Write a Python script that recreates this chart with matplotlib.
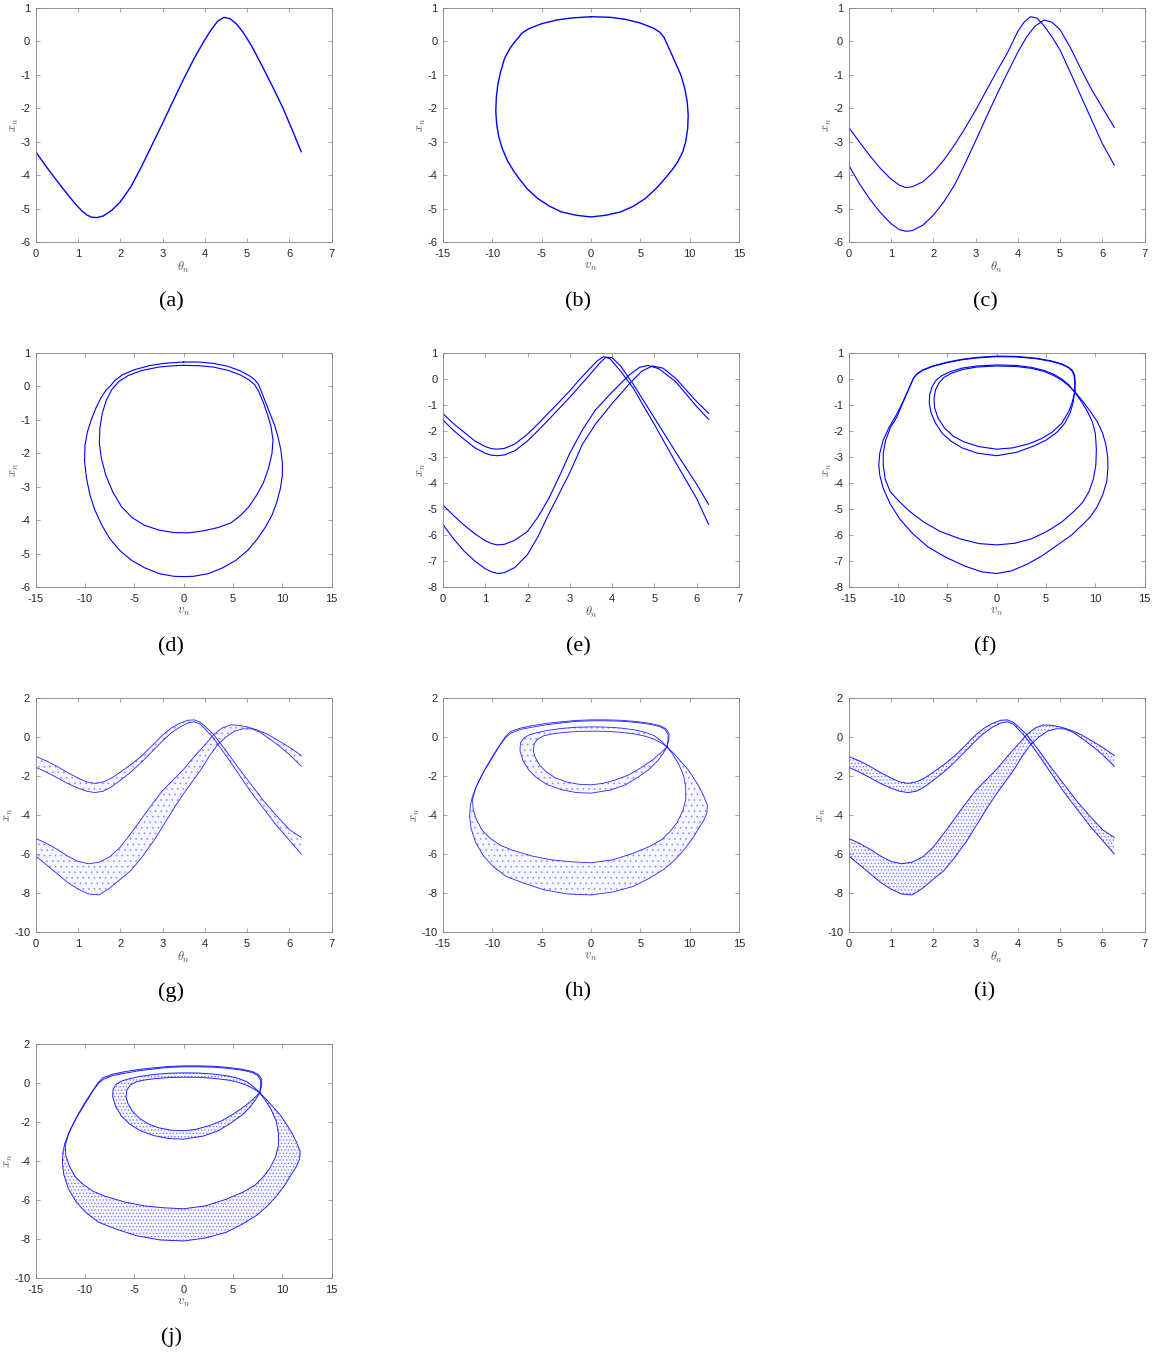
import numpy as np
import matplotlib
matplotlib.use("Agg")
import matplotlib.pyplot as plt
from matplotlib.path import Path
from matplotlib.patches import PathPatch

plt.rcParams['mathtext.fontset'] = 'cm'
plt.rcParams['axes.unicode_minus'] = False
plt.rcParams['font.family'] = ['Liberation Sans', 'DejaVu Sans']
plt.rcParams['hatch.linewidth'] = 0.6

# ---------------- data ----------------
# (a) theta_n vs x_n
a_theta = [0.0, 0.2, 0.4, 0.6, 0.8, 0.95, 1.1, 1.22, 1.33, 1.45, 1.6, 1.8, 2.0, 2.25, 2.5, 2.75, 3.0, 3.25, 3.5, 3.75, 4.0,
           4.15, 4.3, 4.45, 4.6, 4.75, 4.9, 5.1, 5.35, 5.6, 5.85, 6.1, 6.28]
a_x = [-3.30, -3.66, -4.0, -4.33, -4.65, -4.88, -5.08, -5.2, -5.26, -5.27, -5.22, -5.05, -4.8, -4.35, -3.75, -3.1, -2.45,
       -1.78, -1.12, -0.5, 0.05, 0.35, 0.6, 0.72, 0.68, 0.52, 0.28, -0.12, -0.72, -1.35, -2.0, -2.75, -3.3]

# (b) v_n vs x_n
b_v = [0, 2, 3.5, 5, 6.3, 7.0, 7.4, 7.9, 8.5, 9.1, 9.5, 9.75, 9.85, 9.8, 9.6, 9.3, 8.8, 8.2, 7.5, 6.6, 5.5, 4.3, 3.0, 1.5,
       0, -1.5, -3.0, -4.2, -5.4, -6.5, -7.3, -7.9, -8.5, -9.0, -9.35, -9.55, -9.65, -9.6, -9.45, -9.15, -8.75, -8.2,
       -7.7, -7.4, -7.0, -6.3, -5, -3.5, -2, 0]
b_x = [0.74, 0.72, 0.66, 0.55, 0.4, 0.27, 0.12, -0.2, -0.6, -1.0, -1.4, -1.8, -2.2, -2.6, -3.0, -3.3, -3.6, -3.85, -4.1,
       -4.4, -4.7, -4.93, -5.1, -5.2, -5.25, -5.2, -5.1, -4.93, -4.7, -4.4, -4.1, -3.85, -3.55, -3.2, -2.85, -2.5, -2.1,
       -1.7, -1.3, -0.9, -0.5, -0.2, 0.0, 0.1, 0.25, 0.38, 0.53, 0.64, 0.7, 0.74]

# (c)
c1_theta = [0.0, 0.25, 0.5, 0.75, 1.0, 1.2, 1.35, 1.5, 1.75, 2.0, 2.25, 2.5, 2.75, 3.0, 3.25, 3.5, 3.75, 4.0, 4.15, 4.3,
            4.45, 4.6, 4.8, 5.0, 5.25, 5.5, 5.75, 6.0, 6.28]
c1_x = [-2.57, -3.0, -3.42, -3.8, -4.12, -4.3, -4.37, -4.35, -4.2, -3.92, -3.55, -3.1, -2.6, -2.06, -1.48, -0.9, -0.35,
        0.3, 0.58, 0.74, 0.7, 0.5, 0.15, -0.26, -0.95, -1.66, -2.36, -3.06, -3.7]
c2_theta = [0.0, 0.25, 0.5, 0.75, 1.0, 1.2, 1.35, 1.5, 1.75, 2.0, 2.25, 2.5, 2.75, 3.0, 3.25, 3.5, 3.75, 4.0, 4.2, 4.4,
            4.62, 4.8, 5.0, 5.25, 5.5, 5.75, 6.0, 6.28]
c2_x = [-3.7, -4.25, -4.72, -5.12, -5.45, -5.63, -5.68, -5.66, -5.5, -5.2, -4.8, -4.3, -3.66, -2.98, -2.28, -1.6, -0.95,
        -0.32, 0.12, 0.45, 0.64, 0.58, 0.35, -0.2, -0.85, -1.45, -1.98, -2.57]

# (d)
d_out_v = [0, 1.5, 3, 4.5, 5.7, 6.6, 7.2, 7.6, 8.0, 8.4, 8.8, 9.2, 9.55, 9.85, 10.0, 10.0, 9.8, 9.45, 8.95, 8.3, 7.5, 6.5,
           5.3, 4.0, 2.5, 1.0, 0, -1.0, -2.5, -4.0, -5.3, -6.5, -7.5, -8.3, -9.0, -9.5, -9.85, -10.05, -10.0, -9.75,
           -9.35, -8.9, -8.4, -7.9, -7.47, -7.0, -6.2, -5, -3.5, -2, 0]
d_out_x = [0.73, 0.73, 0.69, 0.6, 0.47, 0.33, 0.2, 0.05, -0.25, -0.55, -0.85, -1.15, -1.5, -1.9, -2.3, -2.65, -3.05, -3.45,
           -3.85, -4.2, -4.55, -4.9, -5.2, -5.42, -5.6, -5.68, -5.69, -5.68, -5.6, -5.42, -5.2, -4.9, -4.55, -4.15, -3.7,
           -3.25, -2.75, -2.25, -1.75, -1.35, -0.98, -0.65, -0.35, -0.12, 0.0, 0.17, 0.35, 0.5, 0.62, 0.69, 0.73]
d_in_v = [0, 1.5, 3, 4.5, 5.7, 6.6, 7.2, 7.6, 8.1, 8.5, 8.85, 9.05, 8.95, 8.6, 8.05, 7.4, 6.6, 5.8, 4.8, 3.5, 2.0, 0.5,
          -1.0, -2.5, -4.0, -5.2, -6.3, -7.2, -7.9, -8.35, -8.55, -8.5, -8.25, -7.85, -7.3, -6.6, -5.6, -4.2, -2.5, -1, 0]
d_in_x = [0.63, 0.62, 0.58, 0.48, 0.35, 0.2, 0.05, -0.15, -0.5, -0.85, -1.2, -1.6, -2.0, -2.45, -2.9, -3.25, -3.6, -3.85,
          -4.08, -4.22, -4.32, -4.38, -4.37, -4.3, -4.15, -3.93, -3.6, -3.15, -2.65, -2.15, -1.7, -1.25, -0.8, -0.42,
          -0.1, 0.14, 0.33, 0.48, 0.58, 0.62, 0.63]

# (e)
e1_theta = [0, 0.25, 0.5, 0.75, 1.0, 1.15, 1.28, 1.45, 1.7, 2.0, 2.25, 2.5, 2.75, 3.0, 3.25, 3.5, 3.65, 3.8, 3.95, 4.2,
            4.5, 4.8, 5.0, 5.5, 6.0, 6.28]
e1_x = [-1.33, -1.72, -2.05, -2.38, -2.6, -2.68, -2.70, -2.67, -2.5, -2.12, -1.72, -1.3, -0.88, -0.45, 0.02, 0.45, 0.7,
        0.86, 0.78, 0.3, -0.35, -1.2, -1.75, -3.2, -4.6, -5.59]
e2_theta = [0, 0.25, 0.5, 0.75, 1.0, 1.15, 1.28, 1.45, 1.7, 2.0, 2.25, 2.5, 2.75, 3.0, 3.25, 3.5, 3.7, 3.85, 4.0, 4.2,
            4.5, 4.8, 5.0, 5.5, 6.0, 6.28]
e2_x = [-1.58, -1.98, -2.32, -2.64, -2.86, -2.93, -2.95, -2.92, -2.76, -2.38, -1.98, -1.56, -1.13, -0.7, -0.24, 0.22,
        0.6, 0.84, 0.82, 0.5, -0.2, -0.98, -1.5, -2.8, -4.05, -4.82]
e3_theta = [0, 0.25, 0.5, 0.75, 1.0, 1.15, 1.28, 1.45, 1.7, 2.0, 2.25, 2.5, 2.75, 3.0, 3.3, 3.6, 4.0, 4.4, 4.65, 4.85,
            5.1, 5.5, 6.0, 6.28]
e3_x = [-4.85, -5.25, -5.62, -5.95, -6.22, -6.33, -6.38, -6.36, -6.2, -5.86, -5.3, -4.6, -3.75, -2.85, -1.95, -1.2,
        -0.5, 0.15, 0.45, 0.52, 0.4, -0.1, -1.06, -1.55]
e4_theta = [0, 0.25, 0.5, 0.75, 1.0, 1.15, 1.3, 1.45, 1.7, 2.0, 2.25, 2.5, 2.75, 3.0, 3.3, 3.6, 4.0, 4.4, 4.7, 4.95,
            5.2, 5.5, 6.0, 6.28]
e4_x = [-5.6, -6.15, -6.62, -7.0, -7.3, -7.42, -7.48, -7.45, -7.25, -6.75, -6.05, -5.2, -4.4, -3.6, -2.5, -1.75, -0.94,
        -0.2, 0.3, 0.5, 0.42, 0.03, -0.87, -1.32]

# (f)
f_bo_v = [7.95, 8.7, 9.5, 10.2, 10.7, 11.05, 11.25, 11.27, 11.15, 10.75, 10.2, 9.5, 8.7, 7.6, 6.1, 4.6, 3.1, 1.5, 0,
          -1.5, -3.2, -5.2, -7.0, -8.5, -9.8, -10.8, -11.5, -11.85, -11.95, -11.85, -11.5, -10.9, -10.2, -9.6, -9.05,
          -8.7, -8.45, -8.1, -7.5, -6.5, -5, -3.5, -2, 0, 2, 4, 5.5, 6.6, 7.3, 7.7, 7.9, 7.95, 7.95]
f_bo_x = [-0.5, -0.85, -1.25, -1.65, -2.05, -2.5, -3.0, -3.45, -3.95, -4.45, -4.9, -5.3, -5.6, -6.0, -6.4, -6.8, -7.12,
          -7.38, -7.48, -7.42, -7.2, -6.85, -6.45, -5.95, -5.4, -4.8, -4.2, -3.7, -3.3, -2.85, -2.35, -1.85, -1.4, -0.95,
          -0.5, -0.2, 0.02, 0.2, 0.35, 0.5, 0.65, 0.76, 0.83, 0.88, 0.87, 0.8, 0.7, 0.58, 0.45, 0.32, 0.15, -0.1, -0.5]
f_bi_v = [7.9, 8.55, 9.2, 9.7, 10.0, 10.1, 10.05, 9.8, 9.35, 8.7, 7.8, 6.6, 5.1, 3.5, 1.8, 0, -1.8, -3.7, -5.75, -7.4,
          -8.8, -9.9, -10.8, -11.3, -11.5, -11.5, -11.25, -10.75, -10.1, -9.55, -9.05, -8.7, -8.45, -8.1, -7.5, -6.5,
          -5, -3.5, -2, 0, 2, 4, 5.5, 6.6, 7.3, 7.65, 7.85, 7.9, 7.9]
f_bi_x = [-0.5, -0.85, -1.25, -1.65, -2.1, -2.7, -3.3, -3.85, -4.33, -4.75, -5.1, -5.5, -5.86, -6.15, -6.32, -6.38,
          -6.33, -6.15, -5.86, -5.5, -5.1, -4.7, -4.33, -3.85, -3.3, -2.85, -2.35, -1.85, -1.45, -0.95, -0.5, -0.2,
          0.02, 0.18, 0.33, 0.48, 0.63, 0.74, 0.81, 0.86, 0.85, 0.78, 0.68, 0.56, 0.43, 0.3, 0.12, -0.1, -0.5]
f_so_v = [7.9, 7.75, 7.45, 6.9, 6.1, 5.0, 3.75, 2.0, 0, -2, -3.5, -4.6, -5.5, -6.2, -6.65, -6.83, -6.8, -6.55, -6.15,
          -5.6, -4.8, -3.5, -2, 0, 2, 3.5, 4.8, 5.8, 6.6, 7.3, 7.9]
f_so_x = [-0.5, -0.9, -1.3, -1.7, -2.05, -2.35, -2.58, -2.82, -2.95, -2.85, -2.65, -2.4, -2.1, -1.7, -1.3, -0.95, -0.6,
          -0.3, -0.05, 0.12, 0.27, 0.42, 0.5, 0.54, 0.52, 0.45, 0.33, 0.18, 0.0, -0.22, -0.5]
f_si_v = [7.9, 7.65, 7.3, 6.6, 5.6, 4.5, 3.2, 1.6, 0, -1.8, -3.3, -4.4, -5.3, -5.95, -6.3, -6.35, -6.2, -5.85, -5.35,
          -4.6, -3.4, -2, 0, 2, 3.5, 4.8, 5.8, 6.6, 7.3, 7.9]
f_si_x = [-0.5, -0.9, -1.25, -1.7, -2.05, -2.3, -2.5, -2.65, -2.7, -2.6, -2.42, -2.2, -1.88, -1.5, -1.1, -0.75, -0.42,
          -0.15, 0.06, 0.22, 0.37, 0.46, 0.5, 0.48, 0.41, 0.29, 0.13, -0.05, -0.26, -0.5]

# (g)/(i) chaotic bands, theta_n vs x_n
g_tb_hi_theta = [0, 0.25, 0.5, 0.75, 1.0, 1.2, 1.4, 1.6, 1.8, 2.0, 2.25, 2.5, 2.75, 3.0, 3.2, 3.4, 3.6, 3.75, 3.9, 4.2,
                 4.5, 4.8, 5.1, 5.4, 5.7, 6.0, 6.28]
g_tb_hi_x = [-1.0, -1.22, -1.5, -1.82, -2.1, -2.3, -2.38, -2.3, -2.1, -1.8, -1.42, -0.98, -0.45, 0.1, 0.45, 0.7, 0.86,
             0.88, 0.75, 0.15, -0.7, -1.6, -2.45, -3.3, -4.05, -4.75, -5.15]
g_tb_lo_theta = [0, 0.25, 0.5, 0.75, 1.0, 1.2, 1.4, 1.6, 1.8, 2.0, 2.25, 2.5, 2.75, 3.0, 3.2, 3.4, 3.6, 3.75, 3.9, 4.2,
                 4.5, 4.8, 5.1, 5.4, 5.7, 6.0, 6.28]
g_tb_lo_x = [-1.55, -1.8, -2.08, -2.38, -2.62, -2.78, -2.85, -2.78, -2.55, -2.22, -1.8, -1.3, -0.75, -0.2, 0.2, 0.5,
             0.72, 0.78, 0.65, -0.05, -0.95, -1.9, -2.85, -3.7, -4.55, -5.3, -6.0]
g_lb_hi_theta = [0, 0.25, 0.5, 0.75, 1.0, 1.25, 1.5, 1.75, 2.0, 2.3, 2.5, 2.7, 3.0, 3.25, 3.5, 3.75, 4.0, 4.2, 4.4, 4.6,
                 4.8, 5.0, 5.25, 5.5, 5.75, 6.0, 6.28]
g_lb_hi_x = [-5.2, -5.45, -5.75, -6.1, -6.38, -6.5, -6.42, -6.15, -5.65, -4.8, -4.2, -3.6, -2.75, -2.2, -1.65, -1.0,
             -0.4, 0.1, 0.45, 0.62, 0.6, 0.52, 0.35, 0.12, -0.2, -0.52, -0.95]
g_lb_lo_theta = [0, 0.25, 0.5, 0.75, 1.0, 1.25, 1.5, 1.75, 2.0, 2.25, 2.5, 2.8, 3.1, 3.3, 3.5, 3.7, 3.9, 4.1, 4.3, 4.5,
                 4.7, 4.9, 5.1, 5.3, 5.5, 5.75, 6.0, 6.28]
g_lb_lo_x = [-6.1, -6.55, -7.0, -7.45, -7.8, -8.05, -8.1, -7.75, -7.3, -6.85, -6.2, -5.3, -4.25, -3.55, -2.9, -2.3,
             -1.7, -1.0, -0.4, 0.0, 0.3, 0.42, 0.42, 0.25, -0.05, -0.45, -0.9, -1.5]

# (h)/(j) chaotic bands, v_n vs x_n
h_bo_v = [7.7, 8.4, 9.1, 9.8, 10.4, 10.9, 11.4, 11.8, 11.75, 11.4, 10.9, 10.3, 9.4, 8.5, 7.35, 5.9, 4.3, 2.2, 0, -2.4,
          -4.8, -6.8, -8.6, -9.9, -10.9, -11.7, -12.15, -12.3, -12.25, -12.05, -11.6, -11.1, -10.6, -10.0, -9.3, -8.7,
          -8.2, -7.2, -6, -4.5, -3, -1.5, 0, 1.5, 3, 4.5, 6, 7, 7.6, 7.9, 7.9, 7.7]
h_bo_x = [-0.5, -0.85, -1.25, -1.65, -2.1, -2.5, -3.0, -3.5, -3.9, -4.3, -4.7, -5.2, -5.8, -6.3, -6.8, -7.25, -7.66,
          -7.95, -8.1, -8.05, -7.83, -7.5, -7.15, -6.65, -6.1, -5.4, -4.7, -4.1, -3.6, -3.1, -2.5, -2.0, -1.52, -1.0,
          -0.45, 0.0, 0.27, 0.45, 0.58, 0.7, 0.78, 0.85, 0.88, 0.88, 0.86, 0.8, 0.7, 0.58, 0.42, 0.2, -0.15, -0.5]
h_bi_v = [7.7, 8.3, 8.9, 9.4, 9.6, 9.6, 9.3, 8.7, 8.0, 7.2, 6.0, 4.3, 2.2, 0, -2, -4, -6, -8, -9.2, -10.2, -11.0, -11.6,
          -11.95, -12.0, -11.7, -11.3, -10.9, -10.4, -9.8, -9.2, -8.6, -8.1, -7.2, -6, -4.5, -3, -1.5, 0, 1.5, 3, 4.5,
          6, 7, 7.5, 7.8, 7.8, 7.7]
h_bi_x = [-0.5, -0.9, -1.4, -2.0, -2.6, -3.2, -3.8, -4.4, -4.85, -5.25, -5.6, -5.96, -6.3, -6.45, -6.4, -6.3, -6.1, -5.8,
          -5.55, -5.2, -4.8, -4.25, -3.7, -3.2, -2.65, -2.2, -1.8, -1.4, -0.9, -0.4, 0.0, 0.2, 0.38, 0.5, 0.63, 0.72,
          0.8, 0.83, 0.83, 0.81, 0.75, 0.65, 0.53, 0.38, 0.15, -0.15, -0.5]
h_so_v = [7.7, 7.3, 6.7, 5.9, 4.8, 3.5, 2.0, 0, -1.5, -3, -4.4, -5.5, -6.3, -6.9, -7.2, -7.15, -6.8, -6.3, -5.5, -4.5,
          -3, -1.5, 0, 1.5, 3, 4.5, 5.5, 6.4, 7.1, 7.7]
h_so_x = [-0.5, -0.85, -1.25, -1.65, -2.05, -2.45, -2.72, -2.88, -2.85, -2.7, -2.45, -2.1, -1.7, -1.2, -0.7, -0.3,
          -0.05, 0.1, 0.22, 0.33, 0.44, 0.5, 0.52, 0.51, 0.46, 0.36, 0.24, 0.07, -0.2, -0.5]
h_si_v = [7.7, 7.1, 6.3, 5.0, 3.8, 2.5, 1.2, 0, -1.3, -2.5, -3.6, -4.5, -5.2, -5.65, -5.85, -5.75, -5.4, -4.8, -4,
          -3, -1.5, 0, 1.5, 3, 4.5, 5.5, 6.4, 7.1, 7.7]
h_si_x = [-0.5, -0.8, -1.15, -1.6, -1.95, -2.2, -2.38, -2.45, -2.42, -2.3, -2.1, -1.8, -1.45, -1.05, -0.7, -0.35, -0.1,
          0.06, 0.15, 0.22, 0.28, 0.3, 0.29, 0.24, 0.15, 0.04, -0.12, -0.3, -0.5]

panel_labels = ['(a)', '(b)', '(c)', '(d)', '(e)', '(f)', '(g)', '(h)', '(i)', '(j)']

# ---------------- layout ----------------
FW, FH = 1154, 1360
fig = plt.figure(figsize=(FW / 100, FH / 100), dpi=100)
col_left = [35.7, 443, 848.7]
row_top = [8, 353, 698, 1044]
AW, AH = 296, 234
lab_x = [171, 578, 985]
lab_y = [302, 647, 992, 1337]

BLUE = (0, 0, 1)


def make_ax(r, c, kind, ylo, yhi, ystep, ylab_off):
    ax = fig.add_axes([col_left[c] / FW, 1 - (row_top[r] + AH) / FH, AW / FW, AH / FH])
    if kind == 'theta':
        ax.set_xlim(0, 7)
        ax.set_xticks(range(0, 8))
        ax.set_xlabel(r'$\theta_n$', fontsize=9, color='#555555')
    else:
        ax.set_xlim(-15, 15)
        ax.set_xticks(range(-15, 16, 5))
        ax.set_xlabel(r'$v_n$', fontsize=9, color='#555555')
    ax.set_ylim(ylo, yhi)
    ax.set_yticks(np.arange(ylo, yhi + ystep / 2, ystep))
    ax.set_ylabel(r'$x_n$', fontsize=9, color='#555555')
    ax.xaxis.set_label_coords(0.5, -0.107)
    ax.xaxis.label.set_va('center')
    ax.yaxis.set_label_coords(ylab_off, 0.5)
    ax.yaxis.label.set_va('center')
    ax.tick_params(direction='in', length=3, width=0.5, color='#808080',
                   labelcolor='#262626', labelsize=8, top=True, right=True)
    ax.tick_params(axis='x', pad=5)
    ax.tick_params(axis='y', pad=4)
    for s in ax.spines.values():
        s.set_color('#808080')
        s.set_linewidth(0.6)
    fig.text(lab_x[c] / FW, 1 - lab_y[r] / FH, panel_labels[r * 3 + c],
             ha='center', va='center', fontsize=16, family='Liberation Serif')
    return ax


def band_theta(ax, t_hi, x_hi, t_lo, x_lo, hatch, alpha_h, lw):
    ax.fill(list(t_hi) + list(t_lo)[::-1], list(x_hi) + list(x_lo)[::-1],
            facecolor=(0, 0, 1, 0.03), edgecolor=(0, 0, 1, alpha_h), hatch=hatch, linewidth=0)
    ax.plot(t_hi, x_hi, color=BLUE, lw=lw, alpha=0.85)
    ax.plot(t_lo, x_lo, color=BLUE, lw=lw, alpha=0.85)


def band_ring(ax, v_out, x_out, v_in, x_in, hatch, alpha_h, lw):
    verts = list(zip(v_out, x_out)) + list(zip(v_in[::-1], x_in[::-1]))
    codes = [Path.MOVETO] + [Path.LINETO] * (len(v_out) - 1) + \
            [Path.MOVETO] + [Path.LINETO] * (len(v_in) - 1)
    patch = PathPatch(Path(verts, codes), facecolor=(0, 0, 1, 0.03),
                      edgecolor=(0, 0, 1, alpha_h), hatch=hatch, linewidth=0)
    ax.add_patch(patch)
    ax.plot(v_out, x_out, color=BLUE, lw=lw, alpha=0.85)
    ax.plot(v_in, x_in, color=BLUE, lw=lw, alpha=0.85)


# (a)
ax = make_ax(0, 0, 'theta', -6, 1, 1, -0.07)
ax.plot(a_theta, a_x, color=BLUE, lw=1.0)
# (b)
ax = make_ax(0, 1, 'v', -6, 1, 1, -0.07)
ax.plot(b_v, b_x, color=BLUE, lw=1.0)
# (c)
ax = make_ax(0, 2, 'theta', -6, 1, 1, -0.07)
ax.plot(c1_theta, c1_x, color=BLUE, lw=0.8)
ax.plot(c2_theta, c2_x, color=BLUE, lw=0.8)
# (d)
ax = make_ax(1, 0, 'v', -6, 1, 1, -0.07)
ax.plot(d_out_v, d_out_x, color=BLUE, lw=0.8)
ax.plot(d_in_v, d_in_x, color=BLUE, lw=0.8)
# (e)
ax = make_ax(1, 1, 'theta', -8, 1, 1, -0.07)
for t, x in [(e1_theta, e1_x), (e2_theta, e2_x), (e3_theta, e3_x), (e4_theta, e4_x)]:
    ax.plot(t, x, color=BLUE, lw=0.8)
# (f)
ax = make_ax(1, 2, 'v', -8, 1, 1, -0.07)
for v, x in [(f_bo_v, f_bo_x), (f_bi_v, f_bi_x), (f_so_v, f_so_x), (f_si_v, f_si_x)]:
    ax.plot(v, x, color=BLUE, lw=0.8)
# (g)
ax = make_ax(2, 0, 'theta', -10, 2, 2, -0.09)
band_theta(ax, g_tb_hi_theta, g_tb_hi_x, g_tb_lo_theta, g_tb_lo_x, '...', 0.3, 0.6)
band_theta(ax, g_lb_hi_theta, g_lb_hi_x, g_lb_lo_theta, g_lb_lo_x, '...', 0.3, 0.6)
# (h)
ax = make_ax(2, 1, 'v', -10, 2, 2, -0.09)
band_ring(ax, h_bo_v, h_bo_x, h_bi_v, h_bi_x, '...', 0.3, 0.6)
band_ring(ax, h_so_v, h_so_x, h_si_v, h_si_x, '...', 0.3, 0.6)
# (i)
ax = make_ax(2, 2, 'theta', -10, 2, 2, -0.09)
band_theta(ax, g_tb_hi_theta, g_tb_hi_x, g_tb_lo_theta, g_tb_lo_x, '.....', 0.45, 0.7)
band_theta(ax, g_lb_hi_theta, g_lb_hi_x, g_lb_lo_theta, g_lb_lo_x, '.....', 0.45, 0.7)
# (j)
ax = make_ax(3, 0, 'v', -10, 2, 2, -0.09)
band_ring(ax, h_bo_v, h_bo_x, h_bi_v, h_bi_x, '.....', 0.45, 0.7)
band_ring(ax, h_so_v, h_so_x, h_si_v, h_si_x, '.....', 0.45, 0.7)

fig.savefig('out.png', dpi=100)
